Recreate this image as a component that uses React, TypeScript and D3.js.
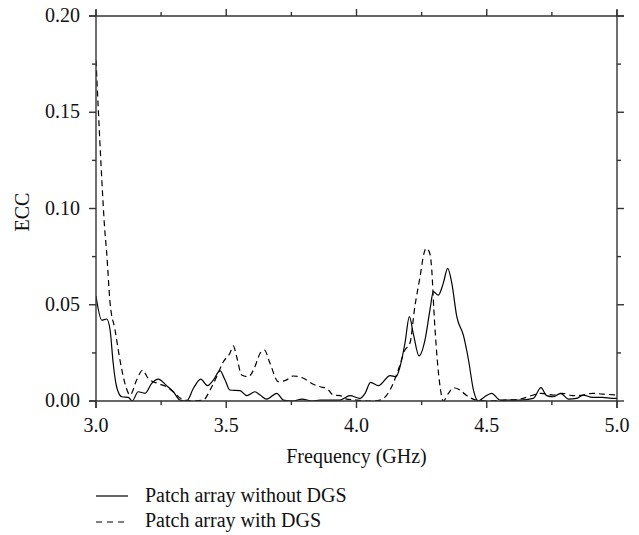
import React from "react";
import * as d3 from "d3";

const freqSolid = [3.0, 3.022, 3.041, 3.054, 3.066, 3.079, 3.099, 3.124, 3.139, 3.162, 3.188, 3.214, 3.239, 3.271, 3.297, 3.322, 3.348, 3.374, 3.402, 3.428, 3.451, 3.476, 3.495, 3.514, 3.553, 3.579, 3.61, 3.63, 3.655, 3.694, 3.719, 3.757, 3.79, 3.83, 3.86, 3.937, 3.975, 4.013, 4.033, 4.054, 4.084, 4.129, 4.152, 4.167, 4.186, 4.203, 4.218, 4.24, 4.263, 4.282, 4.295, 4.314, 4.333, 4.35, 4.366, 4.385, 4.41, 4.43, 4.449, 4.468, 4.49, 4.519, 4.551, 4.628, 4.679, 4.708, 4.73, 4.755, 4.784, 4.813, 4.845, 4.87, 4.906, 4.944, 4.98, 5.0];
const eccSolid = [0.0545, 0.042, 0.0426, 0.037, 0.0196, 0.0074, 0.0022, 0.0019, 0.0, 0.0048, 0.004, 0.0092, 0.0114, 0.008, 0.0048, 0.0005, 0.0, 0.0066, 0.0114, 0.008, 0.011, 0.0158, 0.011, 0.0057, 0.0054, 0.0028, 0.0048, 0.0031, 0.001, 0.004, 0.0005, 0.0, 0.001, 0.0, 0.0005, 0.0005, 0.0028, 0.0014, 0.004, 0.0097, 0.008, 0.0132, 0.0126, 0.0178, 0.03, 0.0438, 0.035, 0.0234, 0.0317, 0.0473, 0.0568, 0.055, 0.0611, 0.0689, 0.0611, 0.0438, 0.0343, 0.0213, 0.0057, 0.0, 0.002, 0.004, 0.0005, 0.0005, 0.0014, 0.0069, 0.0028, 0.0022, 0.004, 0.001, 0.0014, 0.0031, 0.0019, 0.0019, 0.0014, 0.0014];

const freqDashed = [3.0, 3.009, 3.028, 3.032, 3.041, 3.054, 3.073, 3.092, 3.111, 3.131, 3.156, 3.179, 3.2, 3.24, 3.271, 3.303, 3.329, 3.37, 3.412, 3.438, 3.463, 3.489, 3.514, 3.527, 3.54, 3.559, 3.585, 3.61, 3.63, 3.646, 3.668, 3.7, 3.732, 3.757, 3.796, 3.834, 3.86, 3.886, 3.911, 3.937, 3.962, 4.0, 4.05, 4.09, 4.116, 4.135, 4.16, 4.186, 4.205, 4.224, 4.244, 4.259, 4.267, 4.279, 4.289, 4.297, 4.308, 4.321, 4.333, 4.353, 4.372, 4.397, 4.423, 4.46, 4.5, 4.58, 4.628, 4.679, 4.71, 4.755, 4.79, 4.83, 4.87, 4.906, 4.944, 5.0];
const eccDashed = [0.177, 0.151, 0.101, 0.092, 0.077, 0.051, 0.037, 0.0213, 0.0092, 0.0031, 0.0109, 0.016, 0.0118, 0.009, 0.0074, 0.004, 0.001, 0.0, 0.0005, 0.0057, 0.0126, 0.0204, 0.0248, 0.0286, 0.023, 0.0135, 0.0126, 0.0178, 0.0248, 0.0265, 0.0196, 0.01, 0.011, 0.013, 0.0118, 0.0087, 0.0074, 0.0066, 0.0031, 0.0028, 0.001, 0.0005, 0.0, 0.0005, 0.0031, 0.0074, 0.016, 0.0265, 0.03, 0.049, 0.0646, 0.0767, 0.0793, 0.0776, 0.068, 0.0473, 0.0248, 0.0074, 0.0, 0.004, 0.0069, 0.0057, 0.0028, 0.0005, 0.0, 0.0005, 0.001, 0.0031, 0.004, 0.0031, 0.004, 0.0028, 0.0031, 0.004, 0.0036, 0.0031];

const xMajor = [3.0, 3.5, 4.0, 4.5, 5.0];
const xMinor = [3.25, 3.75, 4.25, 4.75];
const yMajor = [0.0, 0.05, 0.1, 0.15, 0.2];
const yMinor = [0.025, 0.075, 0.125, 0.175];
const legendLabels = ["Patch array without DGS", "Patch array with DGS"];

const W = 639;
const H = 535;
const left = 96, right = 617, top = 16, bottom = 401;
const AX = "#333";
const textStyle: React.CSSProperties = { fontFamily: "Liberation Serif", fontSize: "20px" };

export default function App() {
  const x = d3.scaleLinear().domain([3, 5]).range([left, right]);
  const y = d3.scaleLinear().domain([0, 0.2]).range([bottom, top]);
  const line = d3
    .line<[number, number]>()
    .x((d) => x(d[0]))
    .y((d) => y(d[1]))
    .curve(d3.curveMonotoneX);
  const solid = line(freqSolid.map((f, i) => [f, eccSolid[i]] as [number, number])) || "";
  const dashed = line(freqDashed.map((f, i) => [f, eccDashed[i]] as [number, number])) || "";

  return (
    <svg width={W} height={H} style={{ position: "absolute", left: 0, top: 0, background: "#fff" }}>
      <defs>
        <clipPath id="plot">
          <rect x={left} y={top - 2} width={right - left} height={bottom - top + 2} />
        </clipPath>
      </defs>
      <g clipPath="url(#plot)" fill="none" stroke="#000" strokeWidth={1.2}>
        <path d={solid} />
        <path d={dashed} strokeDasharray="6,4" />
      </g>
      <g stroke={AX} strokeWidth={1.4} fill="none">
        <line x1={left - 7} x2={right} y1={bottom} y2={bottom} />
        <line x1={left - 7} x2={right + 7} y1={top} y2={top} />
        <line x1={left} x2={left} y1={top - 6} y2={bottom + 7} />
        <line x1={right} x2={right} y1={top - 6} y2={bottom + 7} />
        {xMajor.map((v) => (
          <g key={"xM" + v}>
            <line x1={x(v)} x2={x(v)} y1={bottom} y2={bottom + 7} />
            <line x1={x(v)} x2={x(v)} y1={top} y2={top - 7} />
          </g>
        ))}
        {xMinor.map((v) => (
          <g key={"xm" + v}>
            <line x1={x(v)} x2={x(v)} y1={bottom} y2={bottom + 4} />
            <line x1={x(v)} x2={x(v)} y1={top} y2={top - 4} />
          </g>
        ))}
        {yMajor.map((v) => (
          <g key={"yM" + v}>
            <line x1={left} x2={left - 7} y1={y(v)} y2={y(v)} />
            <line x1={right} x2={right + 7} y1={y(v)} y2={y(v)} />
          </g>
        ))}
        {yMinor.map((v) => (
          <g key={"ym" + v}>
            <line x1={left} x2={left - 4} y1={y(v)} y2={y(v)} />
            <line x1={right} x2={right + 4} y1={y(v)} y2={y(v)} />
          </g>
        ))}
      </g>
      <g style={textStyle} fill="#111">
        {xMajor.map((v) => (
          <text key={"xl" + v} x={x(v)} y={432} textAnchor="middle">
            {v.toFixed(1)}
          </text>
        ))}
        {yMajor.map((v) => (
          <text key={"yl" + v} x={80} y={y(v) + 6} textAnchor="end">
            {v.toFixed(2)}
          </text>
        ))}
        <text x={(left + right) / 2} y={463} textAnchor="middle">
          Frequency (GHz)
        </text>
        <text transform={`translate(29, 212) rotate(-90)`} textAnchor="middle">
          ECC
        </text>
      </g>
      <g style={textStyle} fill="#111">
        <line x1={96} x2={128} y1={496} y2={496} stroke="#000" strokeWidth={1.2} />
        <text x={145} y={502}>{legendLabels[0]}</text>
        <line x1={96} x2={128} y1={522} y2={522} stroke="#000" strokeWidth={1.2} strokeDasharray="6,5" />
        <text x={145} y={527}>{legendLabels[1]}</text>
      </g>
    </svg>
  );
}
